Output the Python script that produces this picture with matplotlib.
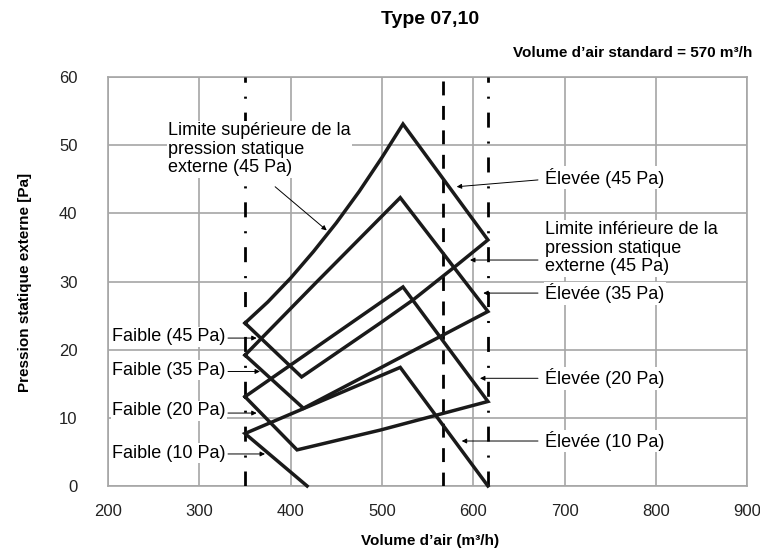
import matplotlib
matplotlib.use("Agg")
import matplotlib.pyplot as plt

plt.rcParams['font.family'] = ['Liberation Sans', 'DejaVu Sans']

# Données (débit m3/h, pression Pa)
q_faible = 350
q_standard = 567
q_elevee = 616

# 45 Pa : Faible -> limite sup. -> pic -> Élevée -> limite inf. -> point bas -> Faible
q_45 = [350, 375, 400, 425, 450, 475, 500, 523, 616, 582, 534, 498, 412, 350]
p_45 = [23.9, 27.0, 30.5, 34.4, 38.6, 43.2, 48.2, 53.1, 36.1, 32.4, 27.3, 23.9, 16.0, 23.9]
# 35 Pa
q_35 = [350, 429, 520, 616, 414, 350]
p_35 = [19.2, 30.0, 42.3, 25.6, 11.4, 19.2]
# 20 Pa
q_20 = [350, 523, 616, 498, 407, 350]
p_20 = [13.1, 29.2, 12.4, 8.2, 5.3, 13.1]
# 10 Pa
q_10 = [418, 350, 520, 616]
p_10 = [0.0, 7.7, 17.4, 0.0]

x_ticks = [200, 300, 400, 500, 600, 700, 800, 900]
y_ticks = [0, 10, 20, 30, 40, 50, 60]

fig = plt.figure(figsize=(7.6, 5.57), dpi=100)
ax = fig.add_axes([108 / 760, 71 / 557, 639.3 / 760, 409 / 557])
ax.set_xlim(200, 900)
ax.set_ylim(0, 60)
ax.set_xticks(x_ticks)
ax.set_yticks(y_ticks)
ax.grid(color='#a6a6a6', lw=1.2)
ax.set_axisbelow(True)
for s in ax.spines.values():
    s.set_color('#a6a6a6')
    s.set_linewidth(1.2)
ax.tick_params(axis='x', length=0, labelsize=12, pad=13, colors='#222222')
ax.tick_params(axis='y', length=0, labelsize=12, pad=22, colors='#222222')

# lignes verticales de référence
ax.axvline(q_faible, color='black', lw=2, ls=(0, (5.4, 5, 0.75, 5)), zorder=3)
ax.axvline(q_standard, color='black', lw=2, ls=(0, (5, 3.8)), zorder=3)
ax.axvline(q_elevee, color='black', lw=2, ls=(0, (5.4, 5, 0.75, 5)), zorder=3)

# courbes
for q, p in [(q_45, p_45), (q_35, p_35), (q_20, p_20), (q_10, p_10)]:
    ax.plot(q, p, color='#1a1a1a', lw=2.5, solid_joinstyle='miter', zorder=4, clip_on=False)

box = dict(facecolor='white', edgecolor='none', pad=1)
arrow = dict(arrowstyle='-|>', color='black', lw=0.7, mutation_scale=7, shrinkA=0, shrinkB=0)

def label(x, y, s, tail, tip):
    ax.text(x, y, s, fontsize=13, ha='left', va='center', bbox=box, zorder=6, linespacing=1.12)
    ax.annotate('', xy=tip, xytext=tail, arrowprops=arrow, zorder=6)

label(265.7, 49.4, "Limite supérieure de la\npression statique\nexterne (45 Pa)", (383, 43.9), (439.5, 37.5))
label(678.5, 45.2, "Élevée (45 Pa)", (670.8, 44.9), (581.8, 43.9))
label(678.5, 34.9, "Limite inférieure de la\npression statique\nexterne (45 Pa)", (670.8, 33.15), (596.4, 33.15))
label(678.5, 28.3, "Élevée (35 Pa)", (670.8, 28.3), (610.9, 28.3))
label(678.5, 15.8, "Élevée (20 Pa)", (670.8, 15.8), (607.3, 15.8))
label(678.5, 6.6, "Élevée (10 Pa)", (670.8, 6.6), (587.3, 6.6))
label(204.4, 21.9, "Faible (45 Pa)", (331.4, 21.7), (362.8, 21.7))
label(204.4, 17.0, "Faible (35 Pa)", (331.4, 16.8), (366.4, 16.8))
label(204.4, 11.05, "Faible (20 Pa)", (331.4, 10.7), (362.8, 10.7))
label(204.4, 4.8, "Faible (10 Pa)", (331.4, 4.7), (371.9, 4.7))

narrow = ['Liberation Sans Narrow', 'Liberation Sans', 'DejaVu Sans']
fig.text(430 / 760, 1 - 20 / 557, "Type 07,10", ha='center', va='center',
         fontsize=14, fontweight='bold', family=narrow)
fig.text(752 / 760, 1 - 53 / 557, "Volume d’air standard = 570 m³/h", ha='right', va='center',
         fontsize=11, fontweight='bold', family=narrow)
fig.text(430 / 760, 1 - 541 / 557, "Volume d’air (m³/h)", ha='center', va='center',
         fontsize=11, fontweight='bold')
fig.text(25 / 760, 1 - 282 / 557, "Pression statique externe [Pa]", ha='center', va='center',
         rotation=90, fontsize=11, fontweight='bold')

fig.savefig('out.png', dpi=100)
